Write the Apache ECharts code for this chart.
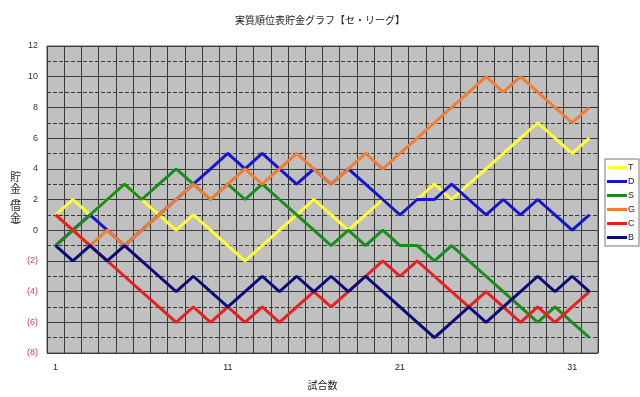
<!DOCTYPE html>
<html>
<head>
<meta charset="utf-8">
<script src="https://cdn.jsdelivr.net/npm/echarts@6/dist/echarts.min.js"></script>
<style>
html, body { margin: 0; padding: 0; background: #fff; }
#main { width: 640px; height: 397px; }
</style>
</head>
<body>
<div id="main"></div>
<script>
var games = ['1','2','3','4','5','6','7','8','9','10','11','12','13','14','15','16',
	'17','18','19','20','21','22','23','24','25','26','27','28','29','30','31','32'];
var teamT = [1,2,1,2,3,2,1,0,1,0,-1,-2,-1,0,1,2,1,0,1,2,1,2,3,2,3,4,5,6,7,6,5,6];
var teamD = [-1,0,1,0,-1,0,1,2,3,4,5,4,5,4,3,4,3,4,3,2,1,2,2,3,2,1,2,1,2,1,0,1];
var teamS = [-1,0,1,2,3,2,3,4,3,2,3,2,3,2,1,0,-1,0,-1,0,-1,-1,-2,-1,-2,-3,-4,-5,-6,-5,-6,-7];
var teamG = [1,0,-1,0,-1,0,1,2,3,2,3,4,3,4,5,4,3,4,5,4,5,6,7,8,9,10,9,10,9,8,7,8];
var teamC = [1,0,-1,-2,-3,-4,-5,-6,-5,-6,-5,-6,-5,-6,-5,-4,-5,-4,-3,-2,-3,-2,-3,-4,-5,-4,-5,-6,-5,-6,-5,-4];
var teamB = [-1,-2,-1,-2,-1,-2,-3,-4,-3,-4,-5,-4,-3,-4,-3,-4,-3,-4,-3,-4,-5,-6,-7,-6,-5,-6,-5,-4,-3,-4,-3,-4];
var teamNames = ['T', 'D', 'S', 'G', 'C', 'B'];
var teamColors = ['#ffff33', '#1414d2', '#1a8c1a', '#f07d32', '#e82020', '#0a0a78'];

var chart = echarts.init(document.getElementById('main'));
var teamData = [teamT, teamD, teamS, teamG, teamC, teamB];
var series = [];
for (var i = 0; i < teamNames.length; i++) {
	series.push({
		name: teamNames[i],
		type: 'line',
		data: teamData[i],
		symbol: 'none',
		animation: false,
		lineStyle: { width: 3, color: teamColors[i] },
		itemStyle: { color: teamColors[i] }
	});
}

var option = {
	backgroundColor: '#fff',
	title: {
		text: '実質順位表貯金グラフ【セ・リーグ】',
		left: 'center',
		top: 10,
		textStyle: {
			fontFamily: 'Noto Sans CJK JP',
			fontSize: 10,
			fontWeight: 'normal',
			color: '#222'
		}
	},
	legend: {
		data: teamNames,
		orient: 'vertical',
		left: 605,
		top: 159,
		backgroundColor: '#fff',
		borderColor: '#777',
		borderWidth: 1,
		padding: [4, 4, 4, 2],
		itemGap: 5,
		itemWidth: 20,
		itemHeight: 3,
		icon: 'rect',
		textStyle: { fontSize: 9, color: '#222', padding: [0, 0, 0, -4], fontFamily: 'Liberation Sans' }
	},
	grid: {
		left: 47,
		right: 42,
		top: 46,
		bottom: 44,
		show: true,
		backgroundColor: '#c0c0c0',
		borderColor: '#555',
		borderWidth: 1
	},
	xAxis: {
		type: 'category',
		data: games,
		boundaryGap: true,
		name: '試合数',
		nameLocation: 'middle',
		nameGap: 27,
		nameTextStyle: { fontFamily: 'Noto Sans CJK JP', fontSize: 10, color: '#222' },
		axisLine: { lineStyle: { color: '#444' } },
		axisTick: { show: false },
		axisLabel: { interval: 9, margin: 10, fontSize: 9, color: '#222', fontFamily: 'Liberation Sans' },
		splitLine: { show: true, interval: 0, lineStyle: { color: '#3a3a3a', width: 1 } }
	},
	yAxis: {
		type: 'value',
		min: -8,
		max: 12,
		interval: 2,
		name: '{c|貯}\n{c|金}\n{p|︵}\n{c|借}\n{c|金}\n{p|︶}',
		nameLocation: 'middle',
		nameRotate: 0,
		nameGap: 24,
		nameTextStyle: {
			fontFamily: 'Noto Sans CJK JP',
			color: '#333',
			rich: {
				c: { fontSize: 11, lineHeight: 12, fontFamily: 'Noto Sans CJK JP', color: '#333' },
				p: { fontSize: 10, lineHeight: 5, fontFamily: 'Noto Sans CJK JP', color: '#333' }
			}
		},
		axisLine: { show: false },
		axisTick: { show: false },
		axisLabel: {
			margin: 9,
			fontSize: 9,
			fontFamily: 'Liberation Sans',
			formatter: function(v) {
				return v < 0 ? '(' + (-v) + ')' : String(v);
			},
			color: function(v) {
				return v < 0 ? '#c84848' : '#333';
			}
		},
		splitLine: { show: true, lineStyle: { color: '#3a3a3a', width: 1 } },
		minorTick: { show: false, splitNumber: 2 },
		minorSplitLine: { show: true, lineStyle: { color: '#3a3a3a', type: 'dashed', width: 1 } }
	},
	series: series
};
chart.setOption(option);
</script>
</body>
</html>
